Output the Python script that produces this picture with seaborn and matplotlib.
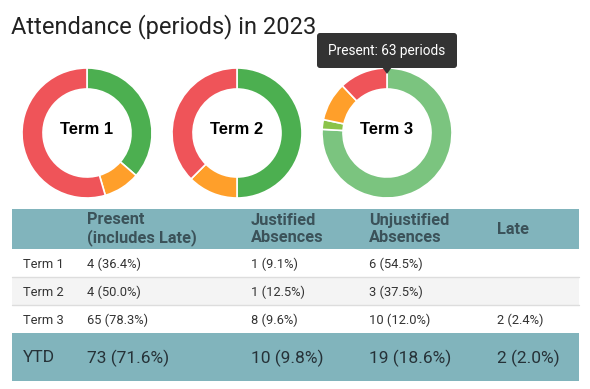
import seaborn as sns
import matplotlib.pyplot as plt
import numpy as np
import pandas as pd
from matplotlib.patches import Rectangle, FancyBboxPatch, Polygon

# data
terms = ['Term 1', 'Term 2', 'Term 3']
present_only = [4, 4, 63]      # present, not late (donut slice)
late = [0, 0, 2]
justified = [1, 1, 8]
unjustified = [6, 3, 10]

col_headers = ['Present\n(includes Late)', 'Justified\nAbsences', 'Unjustified\nAbsences', 'Late']
row_labels = ['Term 1', 'Term 2', 'Term 3']
present_txt = ['4 (36.4%)', '4 (50.0%)', '65 (78.3%)']
justified_txt = ['1 (9.1%)', '1 (12.5%)', '8 (9.6%)']
unjustified_txt = ['6 (54.5%)', '3 (37.5%)', '10 (12.0%)']
late_txt = ['', '', '2 (2.4%)']
ytd_txt = ['73 (71.6%)', '10 (9.8%)', '19 (18.6%)', '2 (2.0%)']

tooltip = 'Present: 63 periods'

sns.set_theme(style='white')
plt.rcParams['font.family'] = ['Roboto', 'DejaVu Sans']

W, H = 590, 389
fig = plt.figure(figsize=(W / 100, H / 100), dpi=100)
fig.patch.set_facecolor('white')

# background layer in pixel coordinates
bg = fig.add_axes([0, 0, 1, 1])
bg.set_xlim(0, W)
bg.set_ylim(H, 0)
bg.axis('off')

bg.text(11, 27, 'Attendance (periods) in 2023', fontsize=17, fontweight='normal',
        color='#222222', va='center', ha='left')

# donuts
green, green_hover = '#4caf50', '#7bc47f'
late_c, orange, red = '#8bc34a', '#ff9f2a', '#ef5459'
centers = [87, 237, 387]
cy = 133
for i, term in enumerate(terms):
    vals = [present_only[i], late[i], justified[i], unjustified[i]]
    cols = [green_hover if i == 2 else green, late_c, orange, red]
    df = pd.DataFrame({'v': vals, 'c': cols})
    df = df[df.v > 0]
    ax = fig.add_axes([(centers[i] - 70) / W, 1 - (cy + 70) / H, 140 / W, 140 / H])
    ax.pie(df.v, colors=df.c, startangle=90, counterclock=False, radius=65,
           wedgeprops=dict(width=21, edgecolor='white', linewidth=1.2))
    ax.set_xlim(-70, 70)
    ax.set_ylim(-70, 70)
    ax.set_aspect('equal')
    ax.axis('off')
    ax.text(0, 4, term, ha='center', va='center', fontsize=12, fontweight='bold',
            color='black', family=['Liberation Sans', 'DejaVu Sans'])

# table
teal = '#81b4bc'
hdr_c = '#3b5259'
body_c = '#333333'
left, right = 12, 579
bg.add_patch(Rectangle((left, 209), right - left, 40, color=teal, lw=0))
rows_y = [(249, 277), (277, 305), (305, 333)]
for k, (y0, y1) in enumerate(rows_y):
    bg.add_patch(Rectangle((left, y0), right - left, y1 - y0,
                           color='#f4f4f4' if k == 1 else 'white', lw=0))
    if k > 0:
        bg.plot([left, right], [y0, y0], color='#dddddd', lw=1)
bg.add_patch(Rectangle((left, 333), right - left, 48, color=teal, lw=0))

col_x = [87, 251, 369, 497]
for x, h in zip(col_x, col_headers):
    bg.text(x, 229, h, ha='left', va='center', fontsize=11.8, fontweight='bold',
            color=hdr_c, linespacing=1.1)

columns = [present_txt, justified_txt, unjustified_txt, late_txt]
for k, (y0, y1) in enumerate(rows_y):
    yc = (y0 + y1) / 2 + 1
    bg.text(23, yc, row_labels[k], ha='left', va='center', fontsize=9.3, color=body_c)
    for x, col in zip(col_x, columns):
        bg.text(x, yc, col[k], ha='left', va='center', fontsize=9.3, color=body_c)

bg.text(23, 358, 'YTD', ha='left', va='center', fontsize=12.5, color='#263238')
for x, t in zip(col_x, ytd_txt):
    bg.text(x, 358, t, ha='left', va='center', fontsize=12.5, color='#263238')

# tooltip on top
top = fig.add_axes([0, 0, 1, 1])
top.set_xlim(0, W)
top.set_ylim(H, 0)
top.axis('off')
top.patch.set_alpha(0)
top.add_patch(FancyBboxPatch((317, 33), 140, 35, boxstyle='round,pad=0,rounding_size=3',
                             color='#333333', lw=0))
top.add_patch(Polygon([[382, 67], [392, 67], [387, 74]], closed=True, color='#333333', lw=0))
top.text(387, 50.5, tooltip, ha='center', va='center', fontsize=9.8, color='white')

fig.savefig('out.png', dpi=100)
